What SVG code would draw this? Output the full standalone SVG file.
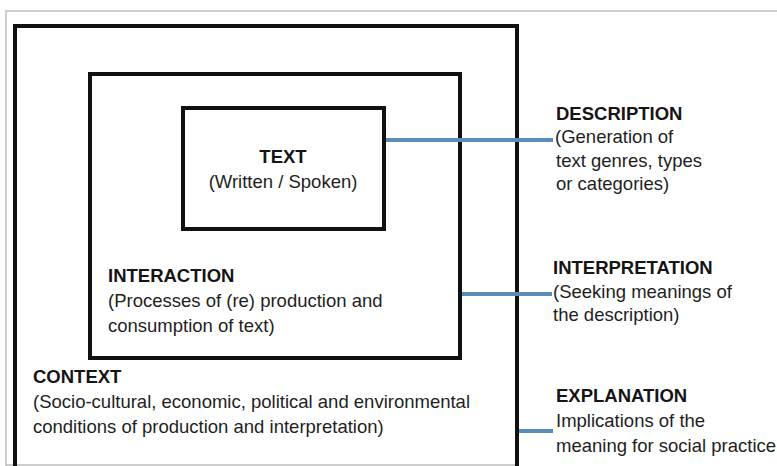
<svg xmlns="http://www.w3.org/2000/svg" width="777" height="466" viewBox="0 0 777 466">
<style>
.box{fill:none;stroke:#111;stroke-width:4}
.frame{fill:none;stroke:#bdbdbd;stroke-width:1.5}
.conn{stroke:#5b8cb7;stroke-width:4;fill:none}
text{font-family:"Liberation Sans",Arial,Helvetica,sans-serif;font-size:18.5px;fill:#1e1e1e}
.b{font-weight:bold;fill:#151515}
</style>
<rect width="777" height="466" fill="#fff"/>
<path class="frame" d="M6,466 V11 H777 M6,465 H516"/>
<g id="context">
<path class="box" d="M15,470 V26 H517 V470"/>
<text class="b" x="33" y="383">CONTEXT</text>
<text x="33" y="408">(Socio-cultural, economic, political and environmental</text>
<text x="33" y="433">conditions of production and interpretation)</text>
</g>
<g id="interaction">
<rect class="box" x="90" y="74" width="370" height="284"/>
<text class="b" x="108" y="282">INTERACTION</text>
<text x="108" y="307">(Processes of (re) production and</text>
<text x="108" y="332">consumption of text)</text>
</g>
<g id="text">
<rect class="box" x="183" y="108" width="201" height="121"/>
<text class="b" x="283" y="163" text-anchor="middle">TEXT</text>
<text x="283" y="188" text-anchor="middle">(Written / Spoken)</text>
</g>
<g id="connectors">
<line class="conn" x1="386" y1="140" x2="553" y2="140"/>
<line class="conn" x1="462" y1="294" x2="552" y2="294"/>
<line class="conn" x1="519" y1="431" x2="553" y2="431"/>
</g>
<g id="description">
<text class="b" x="556" y="120">DESCRIPTION</text>
<text x="555" y="143">(Generation of</text>
<text x="556" y="167">text genres, types</text>
<text x="556" y="190">or categories)</text>
</g>
<g id="interpretation">
<text class="b" x="553" y="274">INTERPRETATION</text>
<text x="553" y="298">(Seeking meanings of</text>
<text x="553" y="321">the description)</text>
</g>
<g id="explanation">
<text class="b" x="556" y="402">EXPLANATION</text>
<text x="556" y="427">Implications of the</text>
<text x="556" y="452">meaning for social practice</text>
</g>
</svg>
